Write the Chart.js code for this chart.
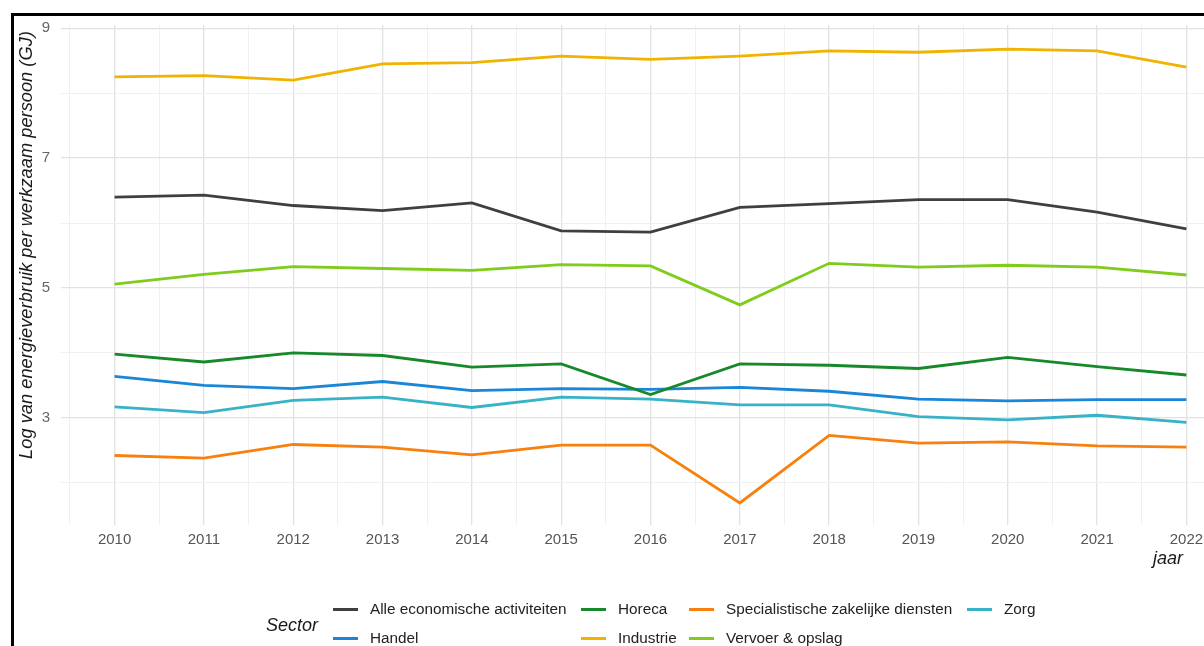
<!DOCTYPE html>
<html><head><meta charset="utf-8">
<script src="https://cdn.jsdelivr.net/npm/chart.js@4.4.0/dist/chart.umd.min.js"></script>
<style>
html,body{margin:0;padding:0;background:#fff;overflow:hidden;width:1204px;height:646px;}
#wrap{position:absolute;left:0;top:0;width:1260px;height:646px;}
canvas{display:block;}
</style></head><body>
<div id="wrap"><canvas id="c" width="1260" height="646" style="width:1260px;height:646px"></canvas></div>
<script>
const years = [2010,2011,2012,2013,2014,2015,2016,2017,2018,2019,2020,2021,2022];
const yearLabels = ['2010','2011','2012','2013','2014','2015','2016','2017','2018','2019','2020','2021','2022'];

const alle      = [6.40,6.43,6.27,6.19,6.31,5.88,5.86,6.24,6.30,6.36,6.36,6.17,5.91];
const handel    = [3.64,3.50,3.45,3.56,3.42,3.45,3.44,3.47,3.41,3.29,3.26,3.28,3.28];
const horeca    = [3.98,3.86,4.00,3.96,3.78,3.83,3.36,3.83,3.81,3.76,3.93,3.79,3.66];
const industrie = [8.25,8.27,8.20,8.45,8.47,8.57,8.52,8.57,8.65,8.63,8.68,8.65,8.40];
const spec      = [2.42,2.38,2.59,2.55,2.43,2.58,2.58,1.69,2.73,2.61,2.63,2.57,2.55];
const vervoer   = [5.06,5.21,5.33,5.30,5.27,5.36,5.34,4.74,5.38,5.32,5.35,5.32,5.20];
const zorg      = [3.17,3.08,3.27,3.32,3.16,3.32,3.29,3.20,3.20,3.02,2.97,3.04,2.93];

const seriesNames = ['Alle economische activiteiten','Handel','Horeca','Industrie','Specialistische zakelijke diensten','Vervoer & opslag','Zorg'];
const seriesValues = [alle, handel, horeca, industrie, spec, vervoer, zorg];
const seriesColors = ['#3f3f3f','#1a86d8','#17892a','#f0b300','#f7800f','#7fcc1c','#38b2c6'];

const yTicks = [2,3,4,5,6,7,8,9];
const yTickLabels = ['','3','','5','','7','','9'];

const yTitle = 'Log van energieverbruik per werkzaam persoon (GJ)';
const xTitle = 'jaar';
const legendTitle = 'Sector';

const datasets = seriesNames.map((name, i) => ({
  label: name,
  data: years.map((yr, j) => ({x: yr, y: seriesValues[i][j]})),
  borderColor: seriesColors[i],
  backgroundColor: seriesColors[i],
  borderWidth: 2.8,
  pointRadius: 0,
  tension: 0,
  fill: false,
  order: seriesNames.length - i
}));

const FONT = '"Liberation Sans", Arial, Helvetica, sans-serif';

const decor = {
  id: 'decor',
  afterDraw(chart) {
    const ctx = chart.ctx;
    ctx.save();
    ctx.fillStyle = '#000';
    ctx.fillRect(11, 13, 3, 700);
    ctx.fillRect(11, 13, 1300, 3);
    ctx.save();
    ctx.translate(27, 245);
    ctx.rotate(-Math.PI / 2);
    ctx.font = 'italic 18.3px ' + FONT;
    ctx.fillStyle = '#1a1a1a';
    ctx.textAlign = 'center';
    ctx.textBaseline = 'middle';
    ctx.fillText(yTitle, 0, 0);
    ctx.restore();
    ctx.font = 'italic 18px ' + FONT;
    ctx.fillStyle = '#1a1a1a';
    ctx.textAlign = 'center';
    ctx.textBaseline = 'alphabetic';
    ctx.fillText(xTitle, 1168, 564);
    ctx.textAlign = 'left';
    ctx.font = 'italic 18px ' + FONT;
    ctx.fillText(legendTitle, 266, 631);
    const colX = [333, 581, 689, 967];
    const rowY = [609.5, 638.5];
    ctx.font = '15.3px ' + FONT;
    chart.data.datasets.forEach((ds, i) => {
      const c = Math.floor(i / 2), r = i % 2;
      const x = colX[c], y = rowY[r];
      ctx.strokeStyle = ds.borderColor;
      ctx.lineWidth = 3;
      ctx.beginPath();
      ctx.moveTo(x, y);
      ctx.lineTo(x + 25, y);
      ctx.stroke();
      ctx.fillStyle = '#222';
      ctx.textBaseline = 'middle';
      ctx.fillText(ds.label, x + 37, y);
    });
    ctx.restore();
  }
};

new Chart(document.getElementById('c'), {
  type: 'line',
  data: { datasets },
  plugins: [decor],
  options: {
    responsive: false,
    animation: false,
    layout: { padding: { left: 0, top: 25, right: 20, bottom: 0 } },
    plugins: { legend: { display: false }, tooltip: { enabled: false }, title: { display: false } },
    scales: {
      x: {
        type: 'linear',
        min: 2009.4,
        max: 2022.6,
        afterBuildTicks(axis) {
          const t = [];
          years.forEach(y => { t.push({value: y - 0.5}); t.push({value: y}); });
          t.push({value: years[years.length - 1] + 0.5});
          axis.ticks = t;
        },
        afterFit(axis) { axis.height = 121; },
        border: { display: false },
        grid: {
          drawTicks: false,
          color: c => (c.tick && Number.isInteger(c.tick.value)) ? '#e2e2e2' : '#f0f0f0',
          lineWidth: c => (c.tick && Number.isInteger(c.tick.value)) ? 1.3 : 1
        },
        ticks: {
          autoSkip: false,
          maxRotation: 0,
          padding: 6,
          color: '#555',
          font: { family: FONT, size: 15 },
          callback: v => { const i = years.indexOf(v); return i >= 0 ? yearLabels[i] : ''; }
        }
      },
      y: {
        min: 1.35,
        max: 9.05,
        afterBuildTicks(axis) { axis.ticks = yTicks.map(v => ({value: v})); },
        afterFit(axis) { axis.width = 61; },
        border: { display: false },
        grid: {
          drawTicks: false,
          color: c => (c.tick && c.tick.value % 2 === 1) ? '#e2e2e2' : '#f0f0f0',
          lineWidth: c => (c.tick && c.tick.value % 2 === 1) ? 1.3 : 1
        },
        ticks: {
          padding: 11,
          color: '#666',
          font: { family: FONT, size: 15 },
          callback: v => { const i = yTicks.indexOf(v); return i >= 0 ? yTickLabels[i] : ''; }
        }
      }
    }
  }
});
</script></body></html>
